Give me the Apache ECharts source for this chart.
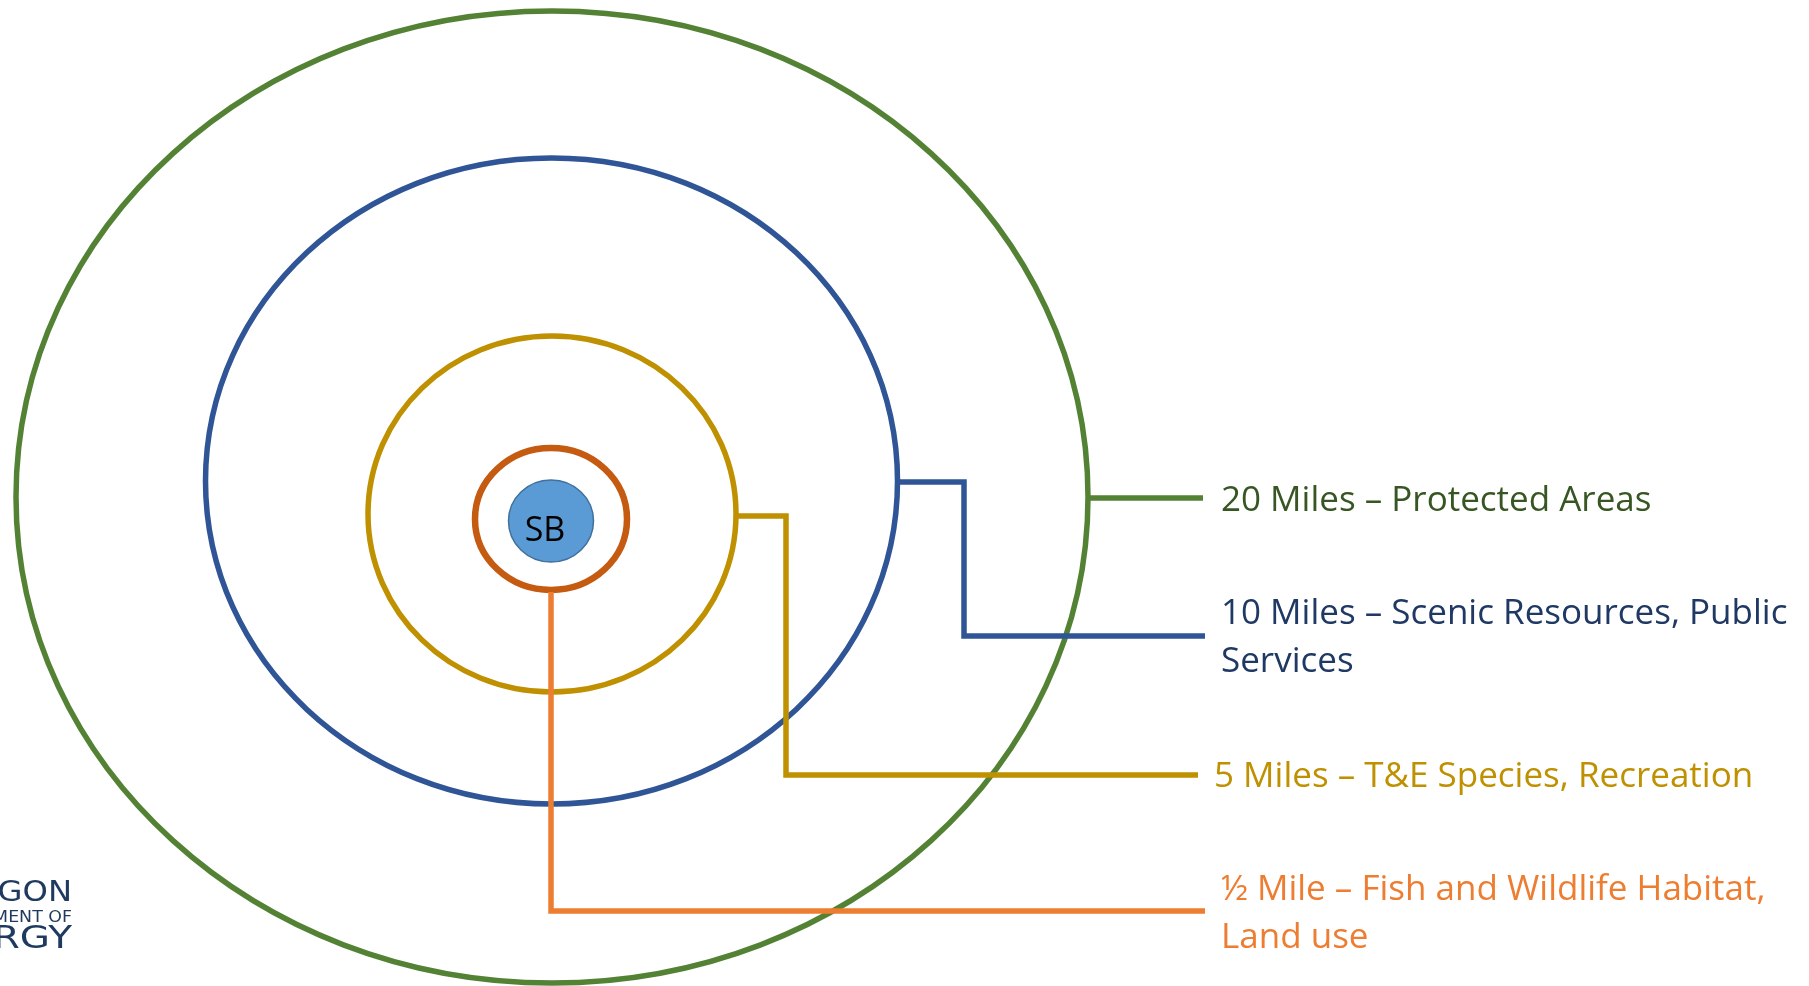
<!DOCTYPE html>
<html>
<head>
<meta charset="utf-8">
<script src="https://cdn.jsdelivr.net/npm/echarts@6/dist/echarts.min.js"></script>
<style>
html,body{margin:0;padding:0;background:#fff;}
#chart{width:1809px;height:986px;}
</style>
</head>
<body>
<div id="chart"></div>
<script>
// ---- data ----
var ringNames = ['20 Miles', '10 Miles', '5 Miles', '½ Mile'];
var ringCenterX = [552, 551.5, 552, 551];
var ringCenterY = [497, 481, 514, 519];
var ringRadiusX = [536, 346, 184, 76];
var ringRadiusY = [486, 323, 178, 71];

var siteName = 'SB';
var siteCenter = [551, 521];
var siteRadius = [42.5, 41];

var connectorGreen = [[1090, 498], [1203, 498]];
var connectorBlue = [[898, 482], [964, 482], [964, 636], [1205, 636]];
var connectorYellow = [[737, 516], [786, 516], [786, 775], [1198, 775]];
var connectorOrange = [[551, 592], [551, 911], [1205, 911]];

var labelTexts = [
  '20 Miles – Protected Areas',
  '10 Miles – Scenic Resources, Public\nServices',
  '5 Miles – T&E Species, Recreation',
  '½ Mile – Fish and Wildlife Habitat,\nLand use'
];
var labelX = [1221, 1221, 1214, 1221];
var labelY = [501, 614, 777, 890];

var logoLines = ['OREGON', 'DEPARTMENT OF', 'ENERGY'];

// ---- styles ----
var ringColors = ['#548235', '#2F5597', '#BF9000', '#C55A11'];
var ringWidths = [5.5, 5.5, 5.5, 6.5];
var textColors = ['#375623', '#1F3864', '#BF9000', '#ED7D31'];
var FONT = '"Open Sans", Lato, sans-serif';
var LINE_H = 48;

var chart = echarts.init(document.getElementById('chart'), null, {renderer: 'canvas'});

var ringData = ringNames.map(function (n, i) {
  return [ringCenterX[i], ringCenterY[i], ringRadiusX[i], ringRadiusY[i]];
});
var labelData = labelTexts.map(function (t, i) { return [labelX[i], labelY[i], i]; });

function lineSeries(name, pts, color, width) {
  return {
    type: 'line', name: name, data: pts, symbol: 'none', silent: true,
    lineStyle: {color: color, width: width, cap: 'butt', join: 'miter'},
    z: 3, animation: false
  };
}

var option = {
  backgroundColor: '#ffffff',
  animation: false,
  grid: {left: 0, right: 0, top: 0, bottom: 0},
  xAxis: {type: 'value', min: 0, max: 1809, show: false},
  yAxis: {type: 'value', min: 0, max: 986, inverse: true, show: false},
  series: [
    {
      type: 'custom', name: 'rings', clip: false, z: 2,
      data: ringData,
      renderItem: function (params, api) {
        var i = params.dataIndex;
        var c = api.coord([api.value(0), api.value(1)]);
        var s = api.size([api.value(2), api.value(3)]);
        return {
          type: 'ellipse',
          shape: {cx: c[0], cy: c[1], rx: Math.abs(s[0]), ry: Math.abs(s[1])},
          style: {fill: null, stroke: ringColors[i], lineWidth: ringWidths[i]}
        };
      }
    },
    {
      type: 'custom', name: 'site', clip: false, z: 4,
      data: [[siteCenter[0], siteCenter[1], siteRadius[0], siteRadius[1]]],
      renderItem: function (params, api) {
        var c = api.coord([api.value(0), api.value(1)]);
        var s = api.size([api.value(2), api.value(3)]);
        return {
          type: 'group',
          children: [
            {type: 'ellipse', shape: {cx: c[0], cy: c[1], rx: Math.abs(s[0]), ry: Math.abs(s[1])},
             style: {fill: '#5B9BD5', stroke: '#41719C', lineWidth: 1.5}},
            {type: 'text', style: {x: c[0] - 6, y: c[1] + 10, text: siteName, fill: '#000',
             font: '34px ' + FONT, textAlign: 'center', textVerticalAlign: 'middle'}}
          ]
        };
      }
    },
    lineSeries('green', connectorGreen, '#548235', 5.5),
    lineSeries('blue', connectorBlue, '#2F5597', 5.5),
    lineSeries('yellow', connectorYellow, '#BF9000', 5.5),
    lineSeries('orange', connectorOrange, '#ED7D31', 5.5),
    {
      type: 'custom', name: 'labels', clip: false, z: 5,
      data: labelData,
      renderItem: function (params, api) {
        var i = api.value(2);
        var c = api.coord([api.value(0), api.value(1)]);
        return {
          type: 'text',
          style: {x: c[0], y: c[1] - LINE_H / 2, text: labelTexts[i], fill: textColors[i],
            font: '35px ' + FONT, textAlign: 'left', textVerticalAlign: 'top', lineHeight: LINE_H}
        };
      }
    }
  ],
  graphic: [
    {type: 'text', x: 72, y: 894, scaleX: 1.15, style: {text: logoLines[0], fill: '#1F3A5F', font: '28px "DejaVu Sans", sans-serif', textAlign: 'right', textVerticalAlign: 'middle'}},
    {type: 'text', x: 72, y: 918, scaleX: 1.16, style: {text: logoLines[1], fill: '#1F3A5F', font: '15px "DejaVu Sans", sans-serif', textAlign: 'right', textVerticalAlign: 'middle'}},
    {type: 'text', x: 72, y: 940, scaleX: 1.22, style: {text: logoLines[2], fill: '#1F3A5F', font: '32px "DejaVu Sans", sans-serif', textAlign: 'right', textVerticalAlign: 'middle'}}
  ]
};
chart.setOption(option);
</script>
</body>
</html>
